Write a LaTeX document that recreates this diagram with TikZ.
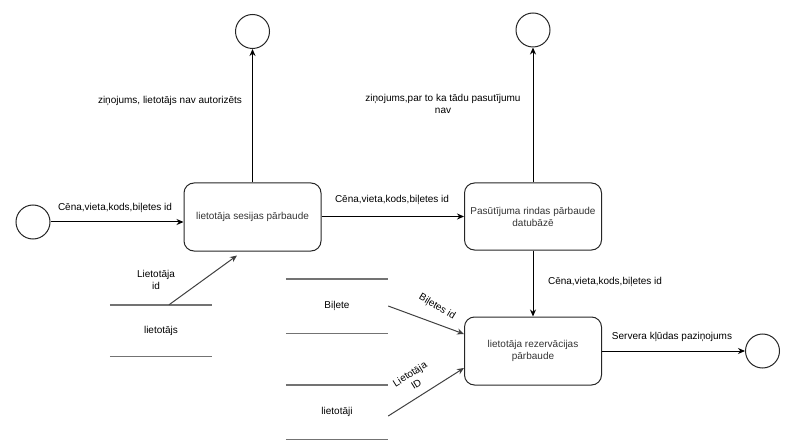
\documentclass[tikz,border=0pt]{standalone}
\usepackage{fontspec}
\setmainfont{Liberation Sans}
\usetikzlibrary{arrows.meta,calc}
\begin{document}
\begin{tikzpicture}[x=1pt,y=-1pt,
  every node/.style={font=\fontsize{10}{12}\selectfont, inner sep=0pt},
  proc/.style={draw=black!85, line width=1pt, rounded corners=10pt, minimum width=137pt, minimum height=68pt, align=center, text=black!80},
  term/.style={draw=black!85, line width=1pt, circle, minimum size=34pt},
  store/.style={minimum width=102pt, minimum height=#1, text=black},
  sline/.style={draw=black!55, line width=1.4pt},
  flow/.style={draw=black, line width=1pt, -{Stealth[length=7pt,width=6pt]}},
  gflow/.style={draw=black!75, line width=1pt, -{Stealth[length=7pt,width=6pt]}},
  lbl/.style={text=black, align=center}
]
\useasboundingbox (0,0) rectangle (794,446);

% terminators
\node[term] (c0) at (33,222) {};
\node[term] (c1) at (252.5,31.5) {};
\node[term] (c2) at (533,30) {};
\node[term] (c3) at (762.5,351) {};

% processes
\node[proc] (b1) at (252.5,217) {lietotāja sesijas pārbaude};
\node[proc, minimum height=67pt] (b2) at (533,216.5) {Pasūtījuma rindas pārbaude\\datubāzē};
\node[proc] (b3) at (533,351) {lietotāja rezervācijas\\pārbaude};

% data stores
\node[store=51pt] (s1) at (161,330.5) {lietotājs};
\node[store=54pt] (s2) at (337,306) {Biļete};
\node[store=54pt] (s3) at (337,412) {lietotāji};
\foreach \s in {s1,s2,s3}{
  \draw[sline] (\s.north west) -- (\s.north east);
  \draw[sline] (\s.south west) -- (\s.south east);
}

% flows
\draw[flow] (c0.east) -- (c0.east -| b1.west);
\draw[flow] (b1.north) -- (c1.south);
\draw[flow] (b1.east |- b2.west) -- (b2.west);
\draw[flow] (b2.north) -- (c2.south);
\draw[flow] (b2.south) -- (b3.north);
\draw[flow] (b3.east) -- (c3.west);
\draw[gflow] ($(s1.north)+(8,0)$) -- ($(b1.south)+(-15.5,4)$);
\draw[gflow] (s2.east) -- ($(b3.west)+(0,-17)$);
\draw[gflow] ($(s3.east)+(0,4)$) -- ($(b3.west)+(0,17)$);

% labels
\node[lbl] (l0) at (115,208) {Cēna,vieta,kods,biļetes id};
\node[lbl] (l1) at (170,101) {ziņojums, lietotājs nav autorizēts};
\node[lbl] (l2) at (392,200) {Cēna,vieta,kods,biļetes id};
\node[lbl] (l3) at (443,103.5) {ziņojums,par to ka tādu pasutījumu\\nav};
\node[lbl] (l4) at (605,282) {Cēna,vieta,kods,biļetes id};
\node[lbl] (l5) at (672,337) {Servera kļūdas paziņojums};
\node[lbl] (l6) at (156,280) {Lietotāja\\id};
\node[lbl, rotate=-31] (l7) at (437,307) {Biļetes id};
\node[lbl, rotate=32] (l8) at (413,379) {Lietotāja\\ID};
\end{tikzpicture}
\end{document}
